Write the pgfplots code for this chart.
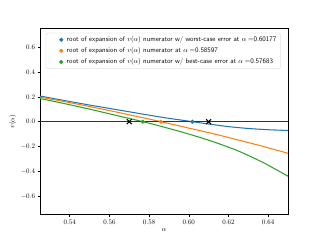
\documentclass[border=0pt]{standalone}
\usepackage{pgfplots}
\pgfplotsset{compat=1.18}
\definecolor{c0}{HTML}{1F77B4}
\definecolor{c1}{HTML}{FF7F0E}
\definecolor{c2}{HTML}{2CA02C}
\begin{document}
\begin{tikzpicture}
\path[use as bounding box] (0,0) rectangle (460.8pt,347pt);
\begin{axis}[
  at={(57.6pt,37.9pt)}, anchor=south west,
  scale only axis, width=357.1pt, height=267.8pt,
  xmin=0.525, xmax=0.65, ymin=-0.75, ymax=0.75,
  xtick={0.54,0.56,0.58,0.60,0.62,0.64},
  ytick={-0.6,-0.4,-0.2,0,0.2,0.4,0.6},
  xticklabel style={/pgf/number format/.cd, fixed, fixed zerofill, precision=2},
  yticklabel style={/pgf/number format/.cd, fixed, fixed zerofill, precision=1},
  tick align=outside, xtick pos=bottom, ytick pos=left,
  major tick length=3.5pt,
  every tick/.style={black, line width=0.8pt},
  axis line style={line width=0.8pt},
  tick label style={font=\fontsize{10}{12}\selectfont},
  xlabel={$\alpha$}, ylabel={$v(\alpha)$},
  label style={font=\fontsize{10}{12}\selectfont},
  legend style={at={(0.024,0.977)}, anchor=north west, draw=black!20,
    rounded corners=2pt, fill=white, font=\fontsize{10}{12}\selectfont\sffamily,
    cells={anchor=west}, row sep=3pt, inner xsep=4pt, inner ysep=3pt},
  legend cell align=left,
  legend image code/.code={\draw[#1, only marks] plot coordinates {(0.62cm,0)}; \path (0,0) (0.82cm,0);},
]
\addplot[c0, line width=1.5pt, smooth, forget plot] coordinates {
 (0.525,0.207) (0.5375,0.170) (0.55,0.134) (0.5625,0.100) (0.575,0.066)
 (0.5875,0.033) (0.60177,0) (0.61,-0.019) (0.62,-0.040) (0.63,-0.055)
 (0.64,-0.065) (0.65,-0.071)};
\addplot[c1, line width=1.5pt, smooth, forget plot] coordinates {
 (0.525,0.198) (0.5375,0.161) (0.55,0.122) (0.5625,0.081) (0.575,0.038)
 (0.58597,0) (0.6,-0.052) (0.6125,-0.098) (0.625,-0.148) (0.6375,-0.200)
 (0.65,-0.255)};
\addplot[c2, line width=1.5pt, smooth, forget plot] coordinates {
 (0.525,0.187) (0.5375,0.145) (0.55,0.101) (0.5625,0.054) (0.57683,0)
 (0.5875,-0.044) (0.6,-0.100) (0.6125,-0.163) (0.625,-0.237)
 (0.6375,-0.330) (0.65,-0.440)};
\addplot[black!80, line width=1.5pt, forget plot] coordinates {(0.525,0) (0.65,0)};
\addplot[only marks, mark=*, mark size=2.8pt, c0] coordinates {(0.60177,0)};
\addlegendentry{root of expansion of $v(\alpha)$ numerator w/ worst-case error at $\alpha =$0.60177}
\addplot[only marks, mark=*, mark size=2.8pt, c1] coordinates {(0.58597,0)};
\addlegendentry{root of expansion of $v(\alpha)$ numerator at $\alpha =$0.58597}
\addplot[only marks, mark=*, mark size=2.8pt, c2] coordinates {(0.57683,0)};
\addlegendentry{root of expansion of $v(\alpha)$ numerator w/ best-case error at $\alpha =$0.57683}
\addplot[only marks, mark=x, mark size=5pt, black, line width=1.5pt, forget plot] coordinates {(0.57,0) (0.61,0)};
\end{axis}
\end{tikzpicture}
\end{document}
